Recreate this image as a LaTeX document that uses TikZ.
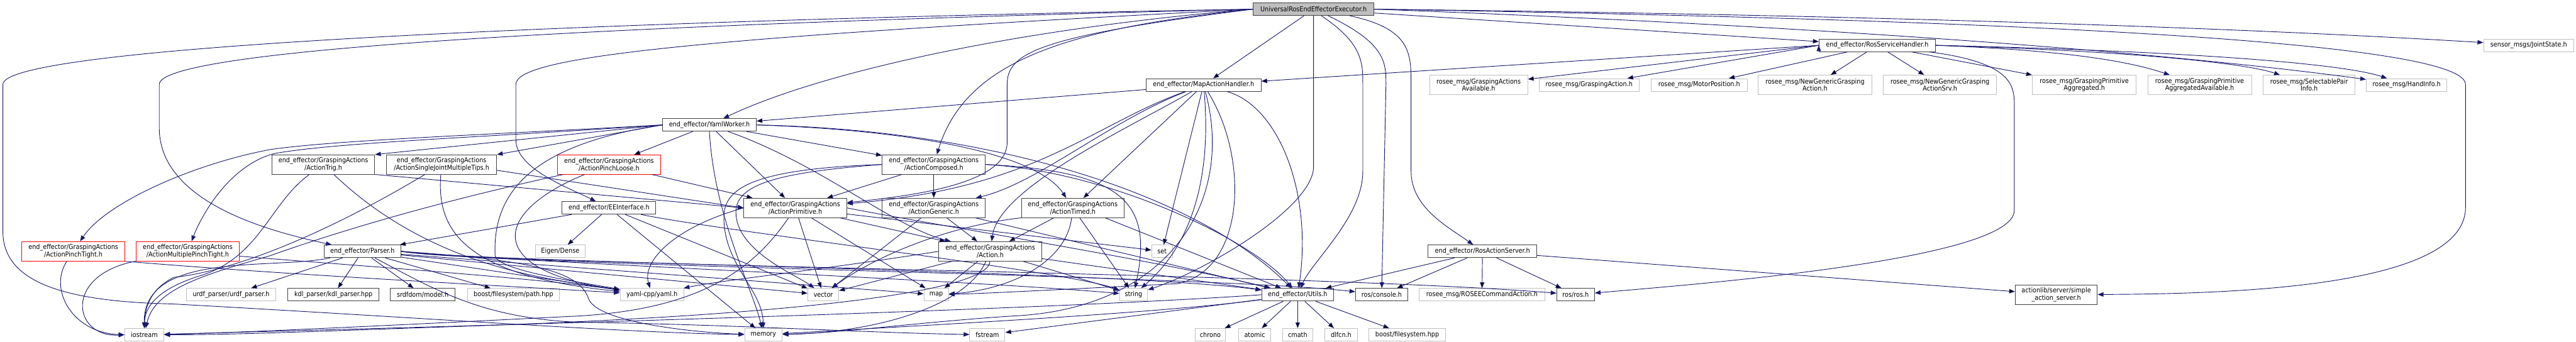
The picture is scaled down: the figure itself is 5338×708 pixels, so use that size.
\documentclass[tikz,border=0pt]{standalone}
\usepackage{fontspec}
\newfontfamily\graphfont{DejaVu Sans Condensed}
\usetikzlibrary{arrows.meta}
\definecolor{edgeblue}{HTML}{191970}
\definecolor{leafgray}{HTML}{BFBFBF}

\begin{document}
\begin{tikzpicture}[x=1pt,y=-1pt,
  every node/.style={draw=black!75,line width=1.3pt,fill=white,align=center,
    font=\graphfont\fontsize{14}{15.5}\selectfont,inner xsep=3pt,inner ysep=2pt,minimum height=26pt},
  leaf/.style={draw=leafgray},
  trunc/.style={draw=red},
  root/.style={fill=leafgray},
  tall/.style={minimum height=40pt},
  dep/.style={draw=edgeblue,line width=1.2pt,-{Triangle[length=12pt,width=9pt]}}]
\fill[white] (0,0) rectangle (5338,708);
\useasboundingbox (0,0) rectangle (5338,708);

\node[root,minimum width=250pt] (exec) at (2722,19) {UniversalRosEndEffectorExecutor.h};
\node[minimum width=241pt] (srvHandler) at (3890,94) {end\_effector/RosServiceHandler.h};
\node[leaf,minimum width=187pt] (jointState) at (5240,94) {sensor\_msgs/JointState.h};
\node[minimum width=238pt] (mapHandler) at (2494,176) {end\_effector/MapActionHandler.h};
\node[leaf,tall,minimum width=203pt] (gaAvail) at (3064,176) {rosee\_msg/GraspingActions\\Available.h};
\node[leaf,minimum width=208pt] (gaMsg) at (3293,176) {rosee\_msg/GraspingAction.h};
\node[leaf,minimum width=199pt] (motorPos) at (3521,176) {rosee\_msg/MotorPosition.h};
\node[leaf,tall,minimum width=235pt] (ngAction) at (3761,176) {rosee\_msg/NewGenericGrasping\\Action.h};
\node[leaf,tall,minimum width=235pt] (ngSrv) at (4020,176) {rosee\_msg/NewGenericGrasping\\ActionSrv.h};
\node[leaf,tall,minimum width=215pt] (primAgg) at (4319,176) {rosee\_msg/GraspingPrimitive\\Aggregated.h};
\node[leaf,tall,minimum width=215pt] (primAggAvail) at (4558,176) {rosee\_msg/GraspingPrimitive\\AggregatedAvailable.h};
\node[leaf,tall,minimum width=190pt] (pairInfo) at (4785,176) {rosee\_msg/SelectablePair\\Info.h};
\node[leaf,minimum width=167pt] (handInfo) at (4987,176) {rosee\_msg/HandInfo.h};
\node[minimum width=194pt] (yamlWorker) at (1470,259) {end\_effector/YamlWorker.h};
\node[tall,minimum width=213pt] (trig) at (670,341) {end\_effector/GraspingActions\\/ActionTrig.h};
\node[tall,minimum width=228pt] (singleJoint) at (915,341) {end\_effector/GraspingActions\\/ActionSingleJointMultipleTips.h};
\node[trunc,tall,minimum width=213pt] (pinchLoose) at (1262,341) {end\_effector/GraspingActions\\/ActionPinchLoose.h};
\node[tall,minimum width=214pt] (composed) at (1935,341) {end\_effector/GraspingActions\\/ActionComposed.h};
\node[minimum width=194pt] (eeIface) at (1262,431) {end\_effector/EEInterface.h};
\node[tall,minimum width=213pt] (primitive) at (1648,431) {end\_effector/GraspingActions\\/ActionPrimitive.h};
\node[tall,minimum width=214pt] (generic) at (1935,431) {end\_effector/GraspingActions\\/ActionGeneric.h};
\node[tall,minimum width=213pt] (timed) at (2223,431) {end\_effector/GraspingActions\\/ActionTimed.h};
\node[trunc,tall,minimum width=213pt] (pinchTight) at (152,521) {end\_effector/GraspingActions\\/ActionPinchTight.h};
\node[trunc,tall,minimum width=213pt] (multiPinch) at (389,521) {end\_effector/GraspingActions\\/ActionMultiplePinchTight.h};
\node[minimum width=159pt] (parser) at (751,521) {end\_effector/Parser.h};
\node[leaf,minimum width=103pt] (eigenDense) at (1161,521) {Eigen/Dense};
\node[tall,minimum width=213pt] (action) at (2052,521) {end\_effector/GraspingActions\\/Action.h};
\node[leaf,minimum width=43pt] (setH) at (2408,521) {set};
\node[minimum width=225pt] (actServer) at (3072,521) {end\_effector/RosActionServer.h};
\node[leaf,minimum width=186pt] (urdfParser) at (479,611) {urdf\_parser/urdf\_parser.h};
\node[minimum width=189pt] (kdlParser) at (691,611) {kdl\_parser/kdl\_parser.hpp};
\node[minimum width=134pt] (srdfModel) at (876,611) {srdfdom/model.h};
\node[leaf,minimum width=191pt] (fsPath) at (1064,611) {boost/filesystem/path.hpp};
\node[leaf,minimum width=132pt] (yamlCpp) at (1351,611) {yaml-cpp/yaml.h};
\node[leaf,minimum width=64pt] (vectorH) at (1706,611) {vector};
\node[leaf,minimum width=51pt] (mapH) at (1940,611) {map};
\node[leaf,minimum width=58pt] (stringH) at (2349,611) {string};
\node[minimum width=149pt] (utils) at (2689,611) {end\_effector/Utils.h};
\node[minimum width=108pt] (rosConsole) at (2863,611) {ros/console.h};
\node[leaf,minimum width=260pt] (cmdAction) at (3071,611) {rosee\_msg/ROSEECommandAction.h};
\node[minimum width=78pt] (rosH) at (3265,611) {ros/ros.h};
\node[tall,minimum width=170pt] (simpleServer) at (4261,611) {actionlib/server/simple\\\_action\_server.h};
\node[leaf,minimum width=81pt] (iostreamH) at (299,694) {iostream};
\node[leaf,minimum width=78pt] (memoryH) at (1582,694) {memory};
\node[leaf,minimum width=73pt] (fstreamH) at (2046,694) {fstream};
\node[leaf,minimum width=63pt] (chronoH) at (2508,694) {chrono};
\node[leaf,minimum width=67pt] (atomicH) at (2600,694) {atomic};
\node[leaf,minimum width=62pt] (cmathH) at (2689,694) {cmath};
\node[leaf,minimum width=67pt] (dlfcnH) at (2779,694) {dlfcn.h};
\node[leaf,minimum width=159pt] (boostFs) at (2916,694) {boost/filesystem.hpp};

\draw[dep] (exec.west) .. controls (1400,40) and (6,90) .. (6,175) -- (6,480)
  .. controls (6,580) and (120,625) .. (356,630) .. controls (900,660) and (1300,690) .. (memoryH);
\draw[dep] (exec.west) .. controls (1300,50) and (330,100) .. (330,175) -- (330,265)
  .. controls (330,420) and (560,480) .. (parser);
\draw[dep] (exec.west) .. controls (1400,80) and (1069,120) .. (1069,175) -- (1069,290)
  .. controls (1069,350) and (1180,390) .. (eeIface);
\draw[dep] (exec.west) .. controls (2100,60) and (1700,150) .. (yamlWorker);
\draw[dep] (exec.west) .. controls (2200,60) and (2000,130) .. (composed);
\draw[dep] (exec.west) .. controls (2150,75) and (2087,110) .. (2087,175) -- (2087,295)
  .. controls (2087,380) and (1900,405) .. (primitive);
\draw[dep] (exec) edge (mapHandler) edge (srvHandler);
\draw[dep] (exec.south) -- (2722,345) .. controls (2722,430) and (2500,560) .. (stringH);
\draw[dep] ([xshift=16pt]exec.south) .. controls (2824,90) and (2824,130) .. (2824,175) -- (2824,355)
  .. controls (2824,450) and (2720,540) .. (utils);
\draw[dep] ([xshift=30pt]exec.south) .. controls (2872,90) and (2872,130) .. (2872,175) -- (rosConsole);
\draw[dep] ([xshift=75pt]exec.south) .. controls (2924,60) and (2924,110) .. (2924,175) -- (2924,355)
  .. controls (2924,430) and (3000,470) .. (actServer);
\draw[dep] (exec.east) .. controls (3800,30) and (4600,55) .. (jointState);
\draw[dep] (exec.east) .. controls (3800,55) and (4500,110) .. (handInfo);
\draw[dep] (exec.east) .. controls (3800,35) and (5109,70) .. (5109,175) -- (5109,430)
  .. controls (5109,600) and (4600,609) .. (simpleServer);

\draw[dep] (srvHandler.west) edge (mapHandler) edge (gaAvail) edge (gaMsg);
\draw[dep] (srvHandler) edge (motorPos) edge (ngAction) edge (ngSrv) edge (primAgg);
\draw[dep] (srvHandler.east) .. controls (4300,105) and (4420,130) .. (primAggAvail);
\draw[dep] (srvHandler.east) .. controls (4400,105) and (4650,130) .. (pairInfo);
\draw[dep] (srvHandler.east) .. controls (4500,105) and (4850,130) .. (handInfo);
\draw[dep] (srvHandler) .. controls (4174,130) and (4174,180) .. (4174,220) -- (4174,436)
  .. controls (4174,540) and (3500,590) .. (rosH);

\draw[dep] (mapHandler) edge (yamlWorker) edge (setH) edge (timed);
\draw[dep] (mapHandler) .. controls (2260,260) and (2150,390) .. (primitive);
\draw[dep] (mapHandler) .. controls (2300,250) and (2150,380) .. (generic);
\draw[dep] (mapHandler) .. controls (2330,270) and (2070,390) .. (action);
\draw[dep] (mapHandler) .. controls (2505,300) and (2500,480) .. (stringH);
\draw[dep] (mapHandler) .. controls (2590,330) and (2580,560) .. (2440,588)
  .. controls (2200,600) and (2050,608) .. (mapH);
\draw[dep] (mapHandler) .. controls (2650,220) and (2720,400) .. (utils);
\draw[dep] (mapHandler) .. controls (2560,420) and (2420,640) .. (2100,655)
  .. controls (1900,668) and (1750,690) .. (memoryH);

\draw[dep] (actServer) edge (rosConsole) edge (cmdAction) edge (rosH) edge (simpleServer) edge (utils);

\draw[dep] (yamlWorker.west) -- (trig.north east);
\draw[dep] (yamlWorker.west) -- (singleJoint.north east);
\draw[dep] (yamlWorker) edge (pinchLoose) edge (primitive) edge (composed);
\draw[dep] (yamlWorker.west) .. controls (1000,280) and (700,290) .. (560,310)
  .. controls (400,340) and (220,420) .. (pinchTight);
\draw[dep] (yamlWorker.west) .. controls (1000,285) and (700,295) .. (570,318)
  .. controls (480,340) and (420,440) .. (multiPinch);
\draw[dep] (yamlWorker.east) .. controls (1900,270) and (2150,320) .. (timed);
\draw[dep] (yamlWorker) .. controls (1700,340) and (1850,470) .. (action);
\draw[dep] (yamlWorker.east) .. controls (2100,270) and (2500,420) .. (utils);
\draw[dep] (yamlWorker.west) .. controls (1100,300) and (1020,400) .. (1026,530)
  .. controls (1030,560) and (1200,585) .. (yamlCpp);
\draw[dep] (yamlWorker.south) .. controls (1480,450) and (1560,600) .. (memoryH);

\draw[dep] (trig.south east) -- (primitive.west);
\draw[dep] ([yshift=-12pt]singleJoint.east) -- (primitive.west);
\draw[dep] (pinchLoose) edge (primitive);
\draw[dep] (trig) .. controls (560,420) and (540,530) .. (420,570)
  .. controls (320,600) and (300,640) .. (iostreamH);
\draw[dep] (singleJoint) .. controls (700,470) and (500,560) .. (360,575)
  .. controls (310,600) and (300,640) .. (iostreamH);
\draw[dep] (pinchLoose) .. controls (900,420) and (700,480) .. (560,530)
  .. controls (420,570) and (320,600) .. (iostreamH);
\draw[dep] (trig) .. controls (900,560) and (1150,580) .. (yamlCpp);
\draw[dep] (singleJoint) .. controls (905,470) and (950,570) .. (yamlCpp);
\draw[dep] (pinchLoose) .. controls (1020,440) and (1000,560) .. (yamlCpp);
\draw[dep] (pinchTight) .. controls (100,600) and (150,690) .. (iostreamH.west);
\draw[dep] (multiPinch) .. controls (130,570) and (150,700) .. (iostreamH.west);
\draw[dep] (pinchTight.south east) .. controls (600,570) and (1000,590) .. (yamlCpp);
\draw[dep] ([yshift=-10pt]multiPinch.east) .. controls (700,548) and (1100,575) .. (yamlCpp);

\draw[dep] (composed) edge (generic) edge (primitive);
\draw[dep] (composed.east) .. controls (2330,355) and (2390,420) .. (stringH);
\draw[dep] (composed.east) .. controls (2300,355) and (2600,500) .. (utils);
\draw[dep] (composed.west) .. controls (1560,350) and (1500,390) .. (1500,450)
  .. controls (1500,550) and (1580,600) .. (memoryH);
\draw[dep] (composed.west) .. controls (1600,358) and (1525,385) .. (1525,440)
  .. controls (1525,520) and (1650,570) .. (vectorH);

\draw[dep] (generic) edge (action) edge (vectorH) edge (utils);
\draw[dep] (timed) edge (action) edge (stringH);
\draw[dep] ([xshift=-40pt]timed.south east) -- (utils);
\draw[dep] (timed) .. controls (2210,540) and (2100,600) .. (mapH);
\draw[dep] (timed.south west) .. controls (1950,470) and (1800,540) .. (vectorH);

\draw[dep] (primitive) edge (action) edge (vectorH) edge (mapH) edge (setH);
\draw[dep] (primitive.west) .. controls (1400,470) and (1330,540) .. (yamlCpp);
\draw[dep] (primitive.east) .. controls (1900,460) and (2400,540) .. (utils);
\draw[dep] (primitive) .. controls (1560,560) and (1450,640) .. (1200,655)
  .. controls (900,670) and (500,690) .. (iostreamH);

\draw[dep] (action) edge (mapH) edge (stringH) edge (vectorH) edge (utils);
\draw[dep] (action) .. controls (2000,640) and (1800,690) .. (memoryH);
\draw[dep] (action) .. controls (2050,600) and (1700,650) .. (1000,675)
  .. controls (700,685) and (500,694) .. (iostreamH);
\draw[dep] (action.west) .. controls (1700,560) and (1500,580) .. (yamlCpp);

\draw[dep] (eeIface) edge (eigenDense) edge (parser) edge (memoryH) edge (vectorH);
\draw[dep] (eeIface) .. controls (1500,480) and (2200,560) .. (stringH);

\draw[dep] (parser) edge (urdfParser) edge (kdlParser) edge (srdfModel) edge (fsPath) edge (yamlCpp)
  edge (mapH) edge (vectorH);
\draw[dep] (parser) .. controls (560,560) and (297,520) .. (iostreamH);
\draw[dep] (parser.east) .. controls (1000,545) and (2300,560) .. (utils);
\draw[dep] (parser.east) .. controls (1000,550) and (2500,570) .. (rosConsole);
\draw[dep] (parser.east) .. controls (1000,550) and (2700,565) .. (rosH);
\draw[dep] (parser.east) .. controls (1000,540) and (2000,580) .. (stringH);
\draw[dep] (parser.east) .. controls (1100,540) and (1200,560) .. (1220,620)
  .. controls (1240,670) and (1450,690) .. (memoryH);
\draw[dep] (parser) .. controls (900,600) and (1000,660) .. (1200,668)
  .. controls (1500,672) and (1800,690) .. (fstreamH);

\draw[dep] (utils) edge (chronoH) edge (atomicH) edge (cmathH) edge (dlfcnH) edge (boostFs) edge (fstreamH);
\draw[dep] (utils.west) .. controls (2200,640) and (1200,670) .. (iostreamH);
\draw[dep] (utils) .. controls (2400,650) and (1900,675) .. (memoryH);
\end{tikzpicture}
\end{document}
